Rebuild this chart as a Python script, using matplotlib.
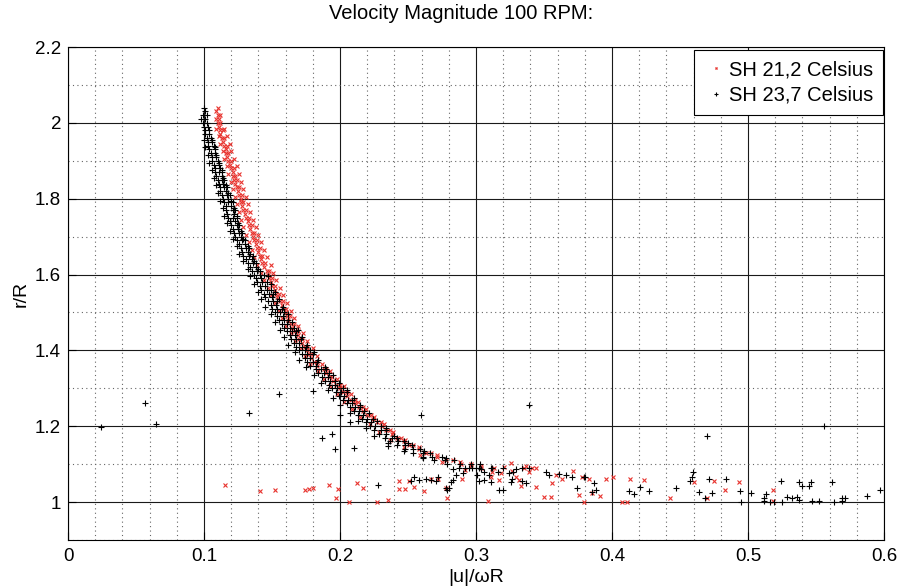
import matplotlib
matplotlib.use("Agg")
import matplotlib.pyplot as plt
import numpy as np

# ---------------- data ----------------
title = "Velocity Magnitude 100 RPM:"
xlabel = "|u|/\u03c9R"
ylabel = "r/R"
label_red = "SH 21,2 Celsius"
label_black = "SH 23,7 Celsius"

# black series (SH 23,7), main curve
black_curve_x = [
    0.100, 0.101,
    0.099, 0.102, 0.098, 0.101, 0.099, 0.102,
    0.100, 0.103, 0.101, 0.104, 0.101, 0.104,
    0.102, 0.105, 0.103, 0.106, 0.103, 0.107,
    0.104, 0.108, 0.105, 0.108, 0.106, 0.109,
    0.106, 0.110, 0.107, 0.111, 0.108, 0.112,
    0.108, 0.111, 0.113, 0.109, 0.113,
    0.110, 0.113, 0.115, 0.111, 0.114,
    0.112, 0.115, 0.117, 0.112, 0.116,
    0.113, 0.117, 0.119, 0.114, 0.118,
    0.115, 0.118, 0.121, 0.116, 0.120,
    0.116, 0.121, 0.123, 0.117, 0.122,
    0.118, 0.121, 0.124, 0.119, 0.123,
    0.120, 0.124, 0.126, 0.121, 0.125,
    0.122, 0.126, 0.128, 0.123, 0.127,
    0.124, 0.128, 0.130, 0.126, 0.130,
    0.127, 0.131, 0.133, 0.128, 0.132,
    0.129, 0.133, 0.136, 0.131, 0.135,
    0.132, 0.136, 0.138, 0.134, 0.138,
    0.135, 0.139, 0.141, 0.137, 0.141, 0.144,
    0.138, 0.142, 0.139, 0.143, 0.146,
    0.141, 0.145, 0.142, 0.146, 0.149,
    0.144, 0.148, 0.151, 0.145, 0.150,
    0.147, 0.151, 0.154, 0.149, 0.153,
    0.150, 0.154, 0.157, 0.152, 0.156, 0.159,
    0.154, 0.158, 0.155, 0.159, 0.162,
    0.157, 0.161, 0.159, 0.163, 0.166,
    0.161, 0.165, 0.168, 0.163, 0.167,
    0.164, 0.168, 0.171, 0.166, 0.170,
    0.168, 0.172, 0.175, 0.170, 0.174, 0.178,
    0.172, 0.176, 0.180, 0.174, 0.178,
    0.176, 0.180, 0.183, 0.178, 0.182,
    0.182, 0.186, 0.190, 0.184, 0.188, 0.192,
    0.187, 0.191, 0.189, 0.193, 0.196,
    0.192, 0.196, 0.194, 0.198, 0.202,
    0.197, 0.201, 0.205, 0.199, 0.203,
    0.202, 0.206, 0.209, 0.205, 0.209,
    0.207, 0.211, 0.215, 0.210, 0.214, 0.218,
    0.213, 0.217, 0.216, 0.220, 0.224,
    0.219, 0.223, 0.222, 0.226, 0.230,
    0.225, 0.230, 0.234, 0.229, 0.234,
    0.233, 0.238, 0.242, 0.237, 0.243, 0.247,
    0.242, 0.248, 0.253, 0.248, 0.254, 0.259,
    0.254, 0.261, 0.266, 0.261, 0.268, 0.275,
    0.269, 0.277, 0.284, 0.279, 0.288, 0.296, 0.303,
    0.292, 0.302, 0.312, 0.320, 0.306, 0.316, 0.327,
]
black_curve_y = [
    2.04, 2.03,
    2.02, 2.02, 2.01, 2.01, 2.00, 2.00,
    1.99, 1.99, 1.98, 1.98, 1.97, 1.97,
    1.96, 1.96, 1.95, 1.95, 1.94, 1.94,
    1.93, 1.93, 1.92, 1.92, 1.91, 1.91,
    1.90, 1.90, 1.89, 1.89, 1.88, 1.88,
    1.87, 1.87, 1.87, 1.86, 1.86,
    1.85, 1.85, 1.85, 1.84, 1.84,
    1.83, 1.83, 1.83, 1.82, 1.82,
    1.81, 1.81, 1.81, 1.80, 1.80,
    1.79, 1.79, 1.79, 1.78, 1.78,
    1.77, 1.77, 1.77, 1.76, 1.76,
    1.75, 1.75, 1.75, 1.74, 1.74,
    1.73, 1.73, 1.73, 1.72, 1.72,
    1.71, 1.71, 1.71, 1.70, 1.70,
    1.69, 1.69, 1.69, 1.68, 1.68,
    1.67, 1.67, 1.67, 1.66, 1.66,
    1.65, 1.65, 1.65, 1.64, 1.64,
    1.63, 1.63, 1.63, 1.62, 1.62,
    1.61, 1.61, 1.61, 1.60, 1.60, 1.60,
    1.59, 1.59, 1.58, 1.58, 1.58,
    1.57, 1.57, 1.56, 1.56, 1.56,
    1.55, 1.55, 1.55, 1.54, 1.54,
    1.53, 1.53, 1.53, 1.52, 1.52,
    1.51, 1.51, 1.51, 1.50, 1.50, 1.50,
    1.49, 1.49, 1.48, 1.48, 1.48,
    1.47, 1.47, 1.46, 1.46, 1.46,
    1.45, 1.45, 1.45, 1.44, 1.44,
    1.43, 1.43, 1.43, 1.42, 1.42,
    1.41, 1.41, 1.41, 1.40, 1.40, 1.40,
    1.39, 1.39, 1.39, 1.38, 1.38,
    1.37, 1.37, 1.37, 1.36, 1.36,
    1.35, 1.35, 1.35, 1.34, 1.34, 1.34,
    1.33, 1.33, 1.32, 1.32, 1.32,
    1.31, 1.31, 1.30, 1.30, 1.30,
    1.29, 1.29, 1.29, 1.28, 1.28,
    1.27, 1.27, 1.27, 1.26, 1.26,
    1.25, 1.25, 1.25, 1.24, 1.24, 1.24,
    1.23, 1.23, 1.22, 1.22, 1.22,
    1.21, 1.21, 1.20, 1.20, 1.20,
    1.19, 1.19, 1.19, 1.18, 1.18,
    1.17, 1.17, 1.17, 1.16, 1.16, 1.16,
    1.15, 1.15, 1.15, 1.14, 1.14, 1.14,
    1.13, 1.13, 1.13, 1.12, 1.12, 1.12,
    1.11, 1.11, 1.11, 1.10, 1.10, 1.10, 1.10,
    1.09, 1.09, 1.09, 1.09, 1.08, 1.08, 1.08,
]

# black series, outer edges of the band
black_edge_x = [
    0.100, 0.106, 0.101, 0.108, 0.103, 0.109, 0.104, 0.111, 0.106, 0.113,
    0.107, 0.114, 0.109, 0.116, 0.110, 0.118, 0.112, 0.120, 0.114, 0.122,
    0.115, 0.124, 0.117, 0.125, 0.119, 0.127, 0.121, 0.129, 0.124, 0.132,
    0.126, 0.134, 0.129, 0.137, 0.132, 0.140, 0.134, 0.147, 0.137, 0.149,
    0.140, 0.152, 0.142, 0.155, 0.145, 0.158, 0.149, 0.162, 0.152, 0.165,
    0.156, 0.169, 0.159, 0.172, 0.162, 0.176, 0.167, 0.181, 0.170, 0.184,
    0.175, 0.189, 0.181, 0.195, 0.186, 0.199, 0.191, 0.205, 0.195, 0.210,
    0.200, 0.215, 0.207, 0.221, 0.213, 0.227, 0.219, 0.234, 0.225, 0.240,
    0.235, 0.250, 0.247, 0.262, 0.261, 0.278,
]
black_edge_y = [
    1.955, 1.955, 1.935, 1.935, 1.915, 1.915, 1.895, 1.895, 1.875, 1.875,
    1.855, 1.855, 1.835, 1.835, 1.815, 1.815, 1.795, 1.795, 1.775, 1.775,
    1.755, 1.755, 1.735, 1.735, 1.715, 1.715, 1.695, 1.695, 1.675, 1.675,
    1.655, 1.655, 1.635, 1.635, 1.615, 1.615, 1.595, 1.595, 1.575, 1.575,
    1.555, 1.555, 1.535, 1.535, 1.515, 1.515, 1.495, 1.495, 1.475, 1.475,
    1.455, 1.455, 1.435, 1.435, 1.415, 1.415, 1.395, 1.395, 1.375, 1.375,
    1.355, 1.355, 1.335, 1.335, 1.315, 1.315, 1.295, 1.295, 1.275, 1.275,
    1.255, 1.255, 1.235, 1.235, 1.215, 1.215, 1.195, 1.195, 1.175, 1.175,
    1.155, 1.155, 1.135, 1.135, 1.115, 1.115,
]

# black series, scattered points (outliers, low branch and far tail)
black_scatter_x = [
    0.024, 0.0565, 0.0646, 0.1328, 0.1548, 0.1805, 0.187, 0.194, 0.1966,
    0.200, 0.2076, 0.2106, 0.228, 0.2355, 0.2597, 0.339, 0.4698, 0.5556,
    0.2521, 0.2546, 0.2578, 0.2632, 0.2668, 0.2705, 0.2717, 0.2778, 0.2790,
    0.2803, 0.2815, 0.2832, 0.2851, 0.2834, 0.2876, 0.2905, 0.2949, 0.2974,
    0.2998, 0.3010, 0.3023, 0.3035, 0.3059, 0.3096, 0.3108, 0.3108, 0.3170,
    0.3199, 0.3243, 0.3255, 0.3267, 0.3297, 0.3340, 0.3340, 0.3370, 0.3390,
    0.3512, 0.3536, 0.3610, 0.3659, 0.3707, 0.3744, 0.3793, 0.3805, 0.3866,
    0.3879, 0.3854,
    0.4123, 0.4160, 0.4209, 0.4270, 0.4470, 0.4576, 0.4588, 0.4595, 0.4637,
    0.4686, 0.4710, 0.4735, 0.4840, 0.4938, 0.4950, 0.5023, 0.5119, 0.5114,
    0.5131, 0.5163, 0.5194, 0.5241, 0.5253, 0.5285, 0.5326, 0.5358, 0.5378,
    0.5375, 0.5395, 0.5449, 0.5461, 0.5473, 0.5525, 0.5620, 0.5630, 0.5688,
    0.5693, 0.5710, 0.5872, 0.5970,
]
black_scatter_y = [
    1.198, 1.260, 1.205, 1.234, 1.284, 1.292, 1.168, 1.179, 1.139,
    1.229, 1.210, 1.142, 1.045, 1.147, 1.229, 1.255, 1.174, 1.200,
    1.056, 1.067, 1.058, 1.060, 1.058, 1.056, 1.067, 1.036, 1.032,
    1.036, 1.053, 1.058, 1.071, 1.086, 1.089, 1.076, 1.090, 1.089,
    1.091, 1.071, 1.056, 1.086, 1.058, 1.071, 1.091, 1.053, 1.032,
    1.032, 1.076, 1.053, 1.062, 1.086, 1.089, 1.055, 1.051, 1.091,
    1.080, 1.071, 1.074, 1.071, 1.065, 1.036, 1.067, 1.065, 1.051,
    1.032, 1.027,
    1.030, 1.021, 1.039, 1.029, 1.036, 1.055, 1.065, 1.080, 1.027,
    1.012, 1.060, 1.025, 1.060, 1.029, 1.001, 1.025, 1.012, 1.004,
    1.021, 1.001, 1.001, 1.055, 1.001, 1.014, 1.012, 1.014, 1.005,
    1.053, 1.042, 1.042, 1.053, 1.004, 1.003, 1.053, 1.001, 1.004,
    1.011, 1.012, 1.016, 1.033,
]

# red series (SH 21,2), main curve
red_curve_x = [
    0.110, 0.109, 0.110, 0.112, 0.109, 0.111,
    0.110, 0.112, 0.111, 0.112, 0.114, 0.112,
    0.113, 0.115, 0.114, 0.115, 0.117, 0.116,
    0.116, 0.118, 0.117, 0.118, 0.120, 0.119,
    0.120, 0.122, 0.121, 0.121, 0.123,
    0.122, 0.124, 0.123, 0.124, 0.126,
    0.125, 0.126, 0.128, 0.127,
    0.127, 0.129, 0.128, 0.129, 0.131,
    0.130, 0.131, 0.133, 0.132,
    0.133, 0.135, 0.134, 0.135, 0.137,
    0.136, 0.137, 0.139, 0.138,
    0.139, 0.141, 0.140, 0.141, 0.143,
    0.142, 0.143, 0.145, 0.144,
    0.146, 0.148, 0.147, 0.148, 0.150,
    0.149, 0.150, 0.152, 0.152,
    0.153, 0.155, 0.154, 0.156, 0.158,
    0.157, 0.158, 0.160, 0.160,
    0.161, 0.163, 0.162, 0.164, 0.166,
    0.165, 0.167, 0.169, 0.169,
    0.170, 0.172, 0.172, 0.174, 0.176,
    0.176, 0.177, 0.179, 0.179,
    0.181, 0.183, 0.183, 0.188, 0.190,
    0.190, 0.192, 0.194, 0.195,
    0.197, 0.200, 0.200, 0.202, 0.205,
    0.205, 0.208, 0.211, 0.211,
    0.214, 0.217, 0.217, 0.220, 0.223,
    0.224, 0.227, 0.230, 0.231,
    0.234, 0.237, 0.238, 0.242, 0.245,
    0.247, 0.251, 0.254, 0.258,
    0.263, 0.267, 0.271, 0.278, 0.283,
    0.289, 0.296, 0.304, 0.313,
]
red_curve_y = [
    2.04, 2.03, 2.02, 2.02, 2.01, 2.01,
    2.00, 2.00, 1.99, 1.98, 1.98, 1.97,
    1.96, 1.96, 1.95, 1.94, 1.94, 1.93,
    1.92, 1.92, 1.91, 1.90, 1.90, 1.89,
    1.88, 1.88, 1.87, 1.86, 1.86,
    1.85, 1.85, 1.84, 1.83, 1.83,
    1.82, 1.81, 1.81, 1.80,
    1.79, 1.79, 1.78, 1.77, 1.77,
    1.76, 1.75, 1.75, 1.74,
    1.73, 1.73, 1.72, 1.71, 1.71,
    1.70, 1.69, 1.69, 1.68,
    1.67, 1.67, 1.66, 1.65, 1.65,
    1.64, 1.63, 1.63, 1.62,
    1.61, 1.61, 1.60, 1.59, 1.59,
    1.58, 1.57, 1.57, 1.56,
    1.55, 1.55, 1.54, 1.53, 1.53,
    1.52, 1.51, 1.51, 1.50,
    1.49, 1.49, 1.48, 1.47, 1.47,
    1.46, 1.45, 1.45, 1.44,
    1.43, 1.43, 1.42, 1.41, 1.41,
    1.40, 1.39, 1.39, 1.38,
    1.37, 1.37, 1.36, 1.35, 1.35,
    1.34, 1.33, 1.33, 1.32,
    1.31, 1.31, 1.30, 1.29, 1.29,
    1.28, 1.27, 1.27, 1.26,
    1.25, 1.25, 1.24, 1.23, 1.23,
    1.22, 1.21, 1.21, 1.20,
    1.19, 1.19, 1.18, 1.17, 1.17,
    1.16, 1.15, 1.15, 1.14,
    1.13, 1.13, 1.12, 1.11, 1.11,
    1.10, 1.10, 1.09, 1.09,
]

# red series, outer edges of the band
red_edge_x = [
    0.109, 0.115, 0.111, 0.117, 0.112, 0.119, 0.114, 0.120, 0.115, 0.122,
    0.117, 0.124, 0.118, 0.126, 0.120, 0.127, 0.121, 0.129, 0.123, 0.131,
    0.124, 0.132, 0.126, 0.134, 0.127, 0.136, 0.129, 0.138, 0.131, 0.140,
    0.133, 0.142, 0.135, 0.144, 0.137, 0.146, 0.139, 0.149, 0.142, 0.151,
    0.144, 0.153, 0.147, 0.156, 0.149, 0.158, 0.152, 0.161, 0.155, 0.164,
    0.157, 0.166, 0.160, 0.169, 0.164, 0.173, 0.167, 0.176, 0.171, 0.180,
    0.174, 0.183, 0.178, 0.187, 0.184, 0.193, 0.188, 0.198, 0.193, 0.203,
    0.198, 0.208, 0.203, 0.213, 0.209, 0.219, 0.215, 0.225, 0.222, 0.232,
    0.229, 0.239, 0.237, 0.248, 0.247, 0.258, 0.259, 0.271, 0.275, 0.288,
]
red_edge_y = [
    1.985, 1.985, 1.965, 1.965, 1.945, 1.945, 1.925, 1.925, 1.905, 1.905,
    1.885, 1.885, 1.865, 1.865, 1.845, 1.845, 1.825, 1.825, 1.805, 1.805,
    1.785, 1.785, 1.765, 1.765, 1.745, 1.745, 1.725, 1.725, 1.705, 1.705,
    1.685, 1.685, 1.665, 1.665, 1.645, 1.645, 1.625, 1.625, 1.605, 1.605,
    1.585, 1.585, 1.565, 1.565, 1.545, 1.545, 1.525, 1.525, 1.505, 1.505,
    1.485, 1.485, 1.465, 1.465, 1.445, 1.445, 1.425, 1.425, 1.405, 1.405,
    1.385, 1.385, 1.365, 1.365, 1.345, 1.345, 1.325, 1.325, 1.305, 1.305,
    1.285, 1.285, 1.265, 1.265, 1.245, 1.245, 1.225, 1.225, 1.205, 1.205,
    1.185, 1.185, 1.165, 1.165, 1.145, 1.145, 1.125, 1.125, 1.105, 1.105,
]

# red series, scattered tail
red_scatter_x = [
    0.1157, 0.1409, 0.1519, 0.1739, 0.1770, 0.1800, 0.1917, 0.1971, 0.1983,
    0.2069, 0.2123, 0.2167, 0.2269, 0.2350, 0.2431, 0.2436, 0.2480, 0.2509,
    0.2546, 0.2619, 0.2668, 0.2724, 0.2788, 0.2778, 0.2900, 0.2918, 0.2962,
    0.3035, 0.3091, 0.3108, 0.3120, 0.3170, 0.3182, 0.3206, 0.3255, 0.3267,
    0.3292, 0.3316, 0.3329, 0.3353, 0.3365, 0.3390, 0.3414, 0.3439, 0.3443,
    0.3500, 0.3549, 0.3561, 0.3585, 0.3634, 0.3712, 0.3756, 0.3781, 0.3793,
    0.3830, 0.3854, 0.3915, 0.3957, 0.4006, 0.4074, 0.4111, 0.4136, 0.4233,
    0.4429, 0.4600, 0.4698, 0.4747, 0.4833, 0.4935, 0.5187, 0.5182,
]
red_scatter_y = [
    1.045, 1.029, 1.032, 1.032, 1.034, 1.036, 1.045, 1.012, 1.034,
    0.999, 1.049, 1.036, 0.999, 1.005, 1.056, 1.034, 1.034, 1.056,
    1.040, 1.030, 1.062, 1.060, 1.010, 1.036, 1.061, 1.084, 1.095,
    1.095, 1.003, 1.065, 1.080, 1.058, 1.076, 1.093, 1.102, 1.082,
    1.067, 1.058, 1.042, 1.091, 1.095, 1.080, 1.091, 1.040, 1.089,
    1.014, 1.014, 1.051, 1.071, 1.062, 1.082, 1.018, 1.067, 1.001,
    1.060, 1.025, 1.016, 1.060, 1.065, 1.001, 1.001, 1.060, 1.057,
    1.012, 1.053, 1.012, 1.055, 1.033, 1.053, 1.033, 1.004,
]

x_limits = (0.0, 0.6)
y_limits = (0.9, 2.2)
x_major = [0.0, 0.1, 0.2, 0.3, 0.4, 0.5, 0.6]
x_major_labels = ["0", "0.1", "0.2", "0.3", "0.4", "0.5", "0.6"]
y_major = [1.0, 1.2, 1.4, 1.6, 1.8, 2.0, 2.2]
y_major_labels = ["1", "1.2", "1.4", "1.6", "1.8", "2", "2.2"]
x_minor = [0.02, 0.04, 0.06, 0.08, 0.12, 0.14, 0.16, 0.18, 0.22, 0.24, 0.26,
           0.28, 0.32, 0.34, 0.36, 0.38, 0.42, 0.44, 0.46, 0.48, 0.52, 0.54,
           0.56, 0.58]
y_minor = [0.9, 1.1, 1.3, 1.5, 1.7, 1.9, 2.1]

# ---------------- figure ----------------
plt.rcParams['font.family'] = ['Liberation Sans', 'DejaVu Sans']

fig = plt.figure(figsize=(9.04, 5.88), dpi=100)
ax = fig.add_axes([68 / 904, 48 / 588, (884 - 68) / 904, (541 - 48) / 588])

red_color = '#e8332e'

rx = np.array(red_curve_x + red_edge_x + red_scatter_x)
ry = np.array(red_curve_y + red_edge_y + red_scatter_y)
bx = np.array(black_curve_x + black_edge_x + black_scatter_x)
by = np.array(black_curve_y + black_edge_y + black_scatter_y)

ax.plot(rx, ry, linestyle='none', marker='x', markersize=3.0,
        markeredgewidth=0.8, color=red_color, label=label_red, zorder=3)
ax.plot(bx, by, linestyle='none', marker='+', markersize=4.5,
        markeredgewidth=0.8, color='black', label=label_black, zorder=4)

ax.set_xlim(*x_limits)
ax.set_ylim(*y_limits)
ax.set_xticks(x_major)
ax.set_xticklabels(x_major_labels)
ax.set_yticks(y_major)
ax.set_yticklabels(y_major_labels)
ax.set_xticks(x_minor, minor=True)
ax.set_yticks(y_minor, minor=True)

ax.grid(True, which='major', color='#1a1a1a', linestyle='-', linewidth=0.8, zorder=1)
ax.grid(True, which='minor', color='#666666', linestyle=(0, (1, 3)), linewidth=0.8, zorder=1)
ax.set_axisbelow(True)

ax.tick_params(which='both', direction='in', labelsize=13.5, top=False, right=False)
ax.tick_params(which='major', length=6, width=0.8)
ax.tick_params(which='minor', length=0)
ax.tick_params(axis='x', pad=6)
ax.tick_params(axis='y', pad=5)
for s in ax.spines.values():
    s.set_linewidth(0.8)
    s.set_color('black')

ax.set_title(title, fontsize=14.5, pad=20, x=(461 - 68) / 816)
ax.set_xlabel(xlabel, fontsize=14, labelpad=3)
ax.set_ylabel(ylabel, fontsize=14, labelpad=4)

leg = ax.legend(loc='upper right', fontsize=14.5, frameon=True, fancybox=False,
                bbox_to_anchor=(0.999, 0.993), borderaxespad=0.0,
                handlelength=1.2, handletextpad=0.05,
                markerscale=0.5, borderpad=0.5, labelspacing=0.3)
leg.get_frame().set_edgecolor('black')
leg.get_frame().set_linewidth(0.8)
leg.get_frame().set_alpha(1.0)

fig.savefig('out.png', dpi=100)
